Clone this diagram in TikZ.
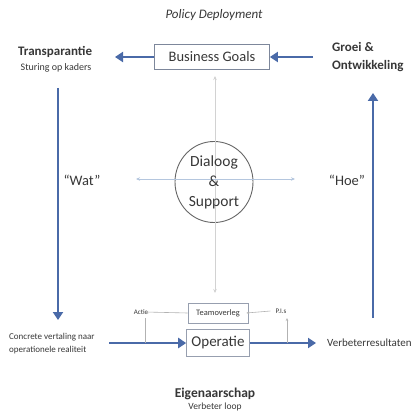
\documentclass[tikz,border=0pt]{standalone}
\usepackage{fontspec}
\setmainfont{Carlito}
\usetikzlibrary{arrows.meta,shapes.geometric}
\definecolor{bigblue}{RGB}{74,106,168}
\definecolor{thinblue}{RGB}{180,198,222}
\definecolor{boxline}{RGB}{125,135,155}
\definecolor{txt}{RGB}{55,55,55}
\tikzset{
  bigarrow/.style={draw=bigblue, line width=2.8pt, -{Triangle[width=10pt,length=8pt]}},
  thinarrow/.style={line width=0.8pt, {Stealth[length=4pt,width=3.5pt]}-{Stealth[length=4pt,width=3.5pt]}},
  smallarrow/.style={draw=gray!60, line width=0.6pt, -{Stealth[length=3pt,width=2.5pt]}},
  goalbox/.style={draw=boxline, line width=0.7pt, minimum width=115pt, minimum height=25pt, inner sep=0pt, font=\fontsize{14.5}{15}\selectfont, text=txt},
  teambox/.style={draw=boxline!80, line width=0.6pt, minimum width=60pt, minimum height=20pt, inner sep=0pt, font=\fontsize{8.4}{9}\selectfont, text=txt},
  opbox/.style={draw=boxline!80, line width=0.6pt, minimum width=63pt, minimum height=27pt, inner sep=0pt, font=\fontsize{15}{16}\selectfont, text=txt},
  lbl/.style={inner sep=0pt, text=txt},
}
\begin{document}
\begin{tikzpicture}[x=1pt,y=-1pt]
\useasboundingbox (0,0) rectangle (414,414);
% title
\node[lbl, font=\itshape\fontsize{13}{14}\selectfont] (title) at (214,15) {Policy Deployment};
% boxes
\node[goalbox] (goals) at (212,57) {Business Goals};
\node[teambox] (team) at (218,313) {Teamoverleg};
\node[opbox] (op) at (218,343) {Operatie};
% circle (slightly taller than wide)
\node[draw=gray!80!black, line width=0.9pt, ellipse, minimum width=78pt, minimum height=81pt, inner sep=0pt] (circ) at (214,182) {};
% corner labels
\node[lbl, anchor=west, font=\bfseries\fontsize{13}{14}\selectfont] (transp) at (18,52) {Transparantie};
\node[lbl, font=\fontsize{10}{11}\selectfont] (sturing) at (56,68) {Sturing op kaders};
\node[lbl, anchor=west, align=left, font=\bfseries\fontsize{13}{18}\selectfont] (groei) at (332,57) {Groei \&\\Ontwikkeling};
\node[lbl, anchor=west, align=left, font=\fontsize{9}{13}\selectfont] (concrete) at (9,344) {Concrete vertaling naar\\operationele realiteit};
\node[lbl, anchor=west, font=\fontsize{11}{12}\selectfont] (verbeter) at (327,343) {Verbeterresultaten};
\node[lbl, font=\fontsize{14.5}{15}\selectfont] (wat) at (82,180) {``Wat''};
\node[lbl, font=\fontsize{14.5}{15}\selectfont] (hoe) at (347,180) {``Hoe''};
\node[lbl, font=\fontsize{7}{8}\selectfont] (actie) at (141,312) {Actie};
\node[lbl, font=\fontsize{7}{8}\selectfont] (pis) at (281,311) {P.I.s};
\node[lbl, font=\bfseries\fontsize{13.5}{14}\selectfont] (eigen) at (215,394) {Eigenaarschap};
\node[lbl, font=\fontsize{9.5}{10}\selectfont] (loop) at (215,407) {Verbeter loop};
% coordinates
\coordinate (tl) at (58,88);
\coordinate (bl) at (58,320);
\coordinate (br) at (373,318);
\coordinate (tr) at (373,93);
\coordinate (gl) at (115,57);
\coordinate (gr) at (313,57);
\coordinate (vtop) at (215,76);
\coordinate (vbot) at (215,293);
\coordinate (hl) at (136,179);
\coordinate (hr) at (295,179);
\coordinate (ml) at (109,343);
\coordinate (mr) at (316,343);
\coordinate (ja) at (145,343);
\coordinate (jp) at (287,343);
\coordinate (pisb) at (287,318);
\coordinate (actieb) at (145,318);
% thin cross
\draw[thinarrow, draw=gray!35] (vtop) -- (vbot);
\draw[thinarrow, draw=thinblue] (hl) -- (hr);
% circle text
\node[lbl, align=center, font=\fontsize{15.5}{20}\selectfont] (dtext) at (circ.center) {Dialoog\\\&\\Support};
% big arrows
\draw[bigarrow] (goals.west) -- (gl);
\draw[bigarrow] (gr) -- (goals.east);
\draw[bigarrow] (tl) -- (bl);
\draw[bigarrow] (br) -- (tr);
\draw[bigarrow] (ml) -- (op.west);
\draw[bigarrow] (op.east) -- (mr);
% small arrows
\draw[smallarrow] (team.west) -- ([xshift=-3pt]actie.east);
\draw[smallarrow] ([xshift=-5pt]pis.west) -- ([xshift=-2pt]team.east);
\draw[draw=gray!60, line width=0.6pt] (actieb) -- (ja);
\draw[smallarrow] (jp) -- (pisb);
\end{tikzpicture}
\end{document}
